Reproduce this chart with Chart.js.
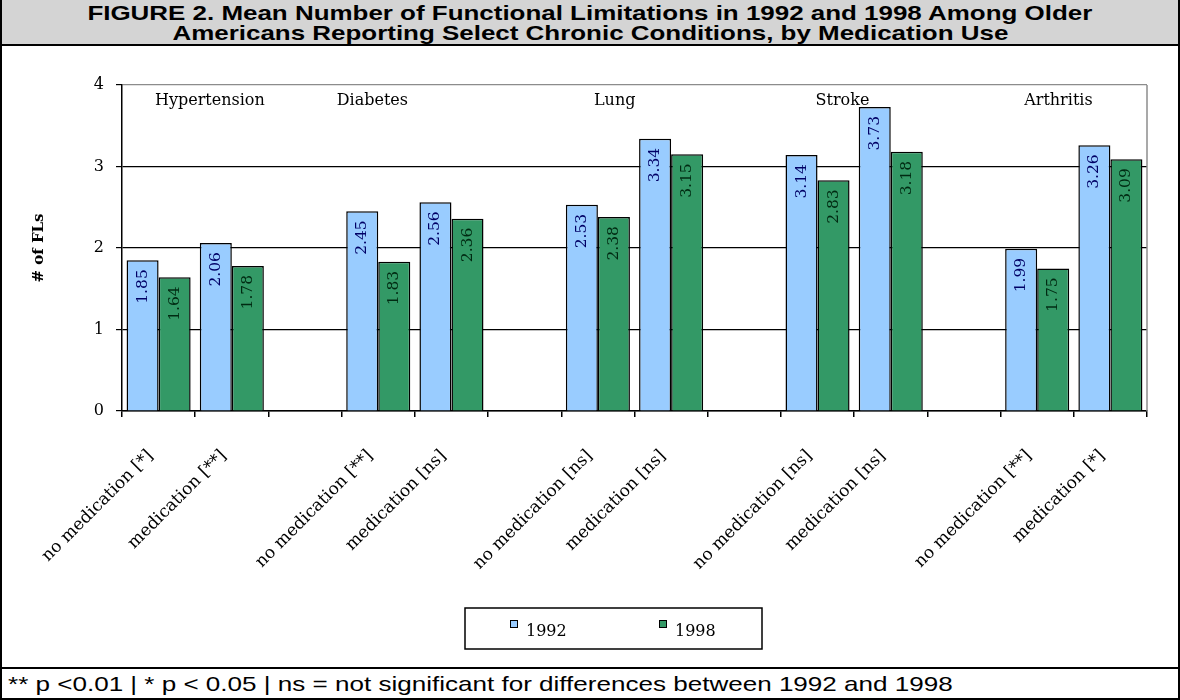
<!DOCTYPE html>
<html>
<head>
<meta charset="utf-8">
<script src="https://cdn.jsdelivr.net/npm/chart.js@4.4.1/dist/chart.umd.min.js"></script>
<style>
  html, body { margin: 0; padding: 0; background: #fff; }
  #fig {
    width: 1180px; height: 700px; box-sizing: border-box;
    border-left: 2px solid #000; border-right: 2px solid #000; border-bottom: 2px solid #000;
    position: relative; overflow: hidden;
  }
  #title {
    height: 41px; padding-top: 3px; background: #d4d4d4; border-bottom: 2px solid #000;
    font-family: "Liberation Sans", Arial, sans-serif; font-weight: bold; font-size: 21px;
    line-height: 20px; text-align: center;
  }
  #title span { display: inline-block; transform: scaleX(1.235); transform-origin: center; white-space: nowrap; }
  #plot { height: 621px; position: relative; }
  #plot canvas { display: block; }
  #note {
    border-top: 2px solid #000; height: 29px;
    font-family: "Liberation Sans", Arial, sans-serif; font-size: 21px; line-height: 29px;
    padding-left: 6px; white-space: nowrap;
  }
  #note span { display: inline-block; transform: scaleX(1.24); transform-origin: left center; }
</style>
</head>
<body>
<div id="fig">
  <div id="title"><span>FIGURE 2. Mean Number of Functional Limitations in 1992 and 1998 Among Older</span><br><span>Americans Reporting Select Chronic Conditions, by Medication Use</span></div>
  <div id="plot"><canvas id="chart" width="1176" height="621"></canvas></div>
  <div id="note"><span>** p &lt;0.01 | * p &lt; 0.05 | ns = not significant for differences between 1992 and 1998</span></div>
</div>
<script>
// Bar slots: two per condition, with an empty slot between conditions
const categories = [
  'no medication [*]', 'medication [**]', '',
  'no medication [**]', 'medication [ns]', '',
  'no medication [ns]', 'medication [ns]', '',
  'no medication [ns]', 'medication [ns]', '',
  'no medication [**]', 'medication [*]'
];
const conditions = ['Hypertension', 'Diabetes', 'Lung', 'Stroke', 'Arthritis'];
const seriesNames = ['1992', '1998'];
const values1992 = [1.85, 2.06, null, 2.45, 2.56, null, 2.53, 3.34, null, 3.14, 3.73, null, 1.99, 3.26];
const values1998 = [1.64, 1.78, null, 1.83, 2.36, null, 2.38, 3.15, null, 2.83, 3.18, null, 1.75, 3.09];
const yTicks = [0, 1, 2, 3, 4];

const serif = '"DejaVu Serif", "Liberation Serif", serif';
const fills = ['#99CCFF', '#339966'];
const labelInk = ['#000066', '#002a12'];

// Condition names along the top of the plot, placed on the category scale
const conditionLabels = {
  id: 'conditionLabels',
  afterDatasetsDraw(chart, args, opts) {
    const { ctx, chartArea } = chart;
    const x = chart.scales.x;
    ctx.save();
    ctx.font = '16px ' + serif;
    ctx.fillStyle = '#000';
    ctx.textAlign = 'center';
    ctx.textBaseline = 'middle';
    conditions.forEach((name, i) => {
      ctx.fillText(name, x.getPixelForValue(opts.anchors[i]), chartArea.top + 16);
    });
    ctx.restore();
  }
};

// Rotated value labels just inside the top of each bar
const barValues = {
  id: 'barValues',
  afterDatasetsDraw(chart) {
    const { ctx } = chart;
    ctx.save();
    ctx.font = '15.5px ' + serif;
    ctx.textAlign = 'right';
    ctx.textBaseline = 'middle';
    chart.data.datasets.forEach((ds, di) => {
      const meta = chart.getDatasetMeta(di);
      meta.data.forEach((bar, i) => {
        const v = ds.data[i];
        if (v == null) return;
        ctx.save();
        ctx.translate(bar.x, bar.y + 9);
        ctx.rotate(-Math.PI / 2);
        ctx.fillStyle = labelInk[di];
        ctx.fillText(v.toFixed(2), 0, 0);
        ctx.restore();
      });
    });
    ctx.restore();
  }
};

// Grey right edge of the plot area
const plotFrame = {
  id: 'plotFrame',
  afterDraw(chart) {
    const { ctx, chartArea } = chart;
    ctx.save();
    ctx.strokeStyle = '#8c8c8c';
    ctx.lineWidth = 1.5;
    ctx.beginPath();
    ctx.moveTo(chartArea.right, chartArea.top);
    ctx.lineTo(chartArea.right, chartArea.bottom);
    ctx.stroke();
    ctx.restore();
  }
};

// Boxed legend below the axis labels
const boxedLegend = {
  id: 'boxedLegend',
  afterDraw(chart, args, opts) {
    const { ctx } = chart;
    const b = opts.box;
    ctx.save();
    ctx.fillStyle = '#fff';
    ctx.fillRect(b.x, b.y, b.w, b.h);
    ctx.strokeStyle = '#000';
    ctx.lineWidth = 1.5;
    ctx.strokeRect(b.x, b.y, b.w, b.h);
    ctx.font = '16px ' + serif;
    ctx.textAlign = 'left';
    ctx.textBaseline = 'alphabetic';
    chart.data.datasets.forEach((ds, i) => {
      const mx = b.x + opts.itemX[i];
      const my = b.y + opts.markerY;
      ctx.fillStyle = ds.backgroundColor;
      ctx.fillRect(mx, my, 8, 8);
      ctx.lineWidth = 1;
      ctx.strokeStyle = '#000';
      ctx.strokeRect(mx + 0.5, my + 0.5, 7, 7);
      ctx.fillStyle = '#000';
      ctx.fillText(ds.label, mx + 16, b.y + opts.textBaseline);
    });
    ctx.restore();
  }
};

new Chart(document.getElementById('chart'), {
  type: 'bar',
  data: {
    labels: categories,
    datasets: [
      { label: seriesNames[0], data: values1992, backgroundColor: fills[0] },
      { label: seriesNames[1], data: values1998, backgroundColor: fills[1] }
    ].map(d => Object.assign(d, {
      borderColor: '#000', borderWidth: 1.5, borderSkipped: 'bottom',
      categoryPercentage: 0.875, barPercentage: 1.0
    }))
  },
  options: {
    responsive: false,
    animation: false,
    devicePixelRatio: 1,
    layout: { padding: { top: 39, right: 31, left: 0, bottom: 0 } },
    plugins: {
      legend: { display: false },
      tooltip: { enabled: false },
      conditionLabels: { anchors: [0.70, 2.92, 6.23, 9.34, 12.29] },
      boxedLegend: {
        box: { x: 463, y: 562, w: 297, h: 41 },
        itemX: [45, 194],
        markerY: 12,
        textBaseline: 28
      }
    },
    scales: {
      x: {
        offset: true,
        grid: { offset: true, drawOnChartArea: false, tickLength: 6, color: '#000', lineWidth: 1.5 },
        border: { color: '#000', width: 1.5 },
        ticks: {
          autoSkip: false, minRotation: 45, maxRotation: 45,
          padding: 29, labelOffset: -8,
          font: { family: serif, size: 17 }, color: '#000'
        },
        afterFit: s => { s.height = 256; }
      },
      y: {
        min: 0, max: 4,
        afterBuildTicks: s => { s.ticks = yTicks.map(v => ({ value: v })); },
        grid: {
          color: c => (c.tick && c.tick.value === 4) ? '#8c8c8c' : '#000',
          tickColor: '#000', lineWidth: 1.2, tickLength: 6
        },
        border: { color: '#000', width: 1.5 },
        ticks: { font: { family: serif, size: 16 }, color: '#000', padding: 12 },
        title: {
          display: true, text: '# of FLs', color: '#000',
          font: { family: serif, size: 15, weight: 'bold' },
          padding: { top: 28, bottom: 0 }
        },
        afterFit: s => { s.width = 120; }
      }
    }
  },
  plugins: [conditionLabels, barValues, plotFrame, boxedLegend]
});
</script>
</body>
</html>
